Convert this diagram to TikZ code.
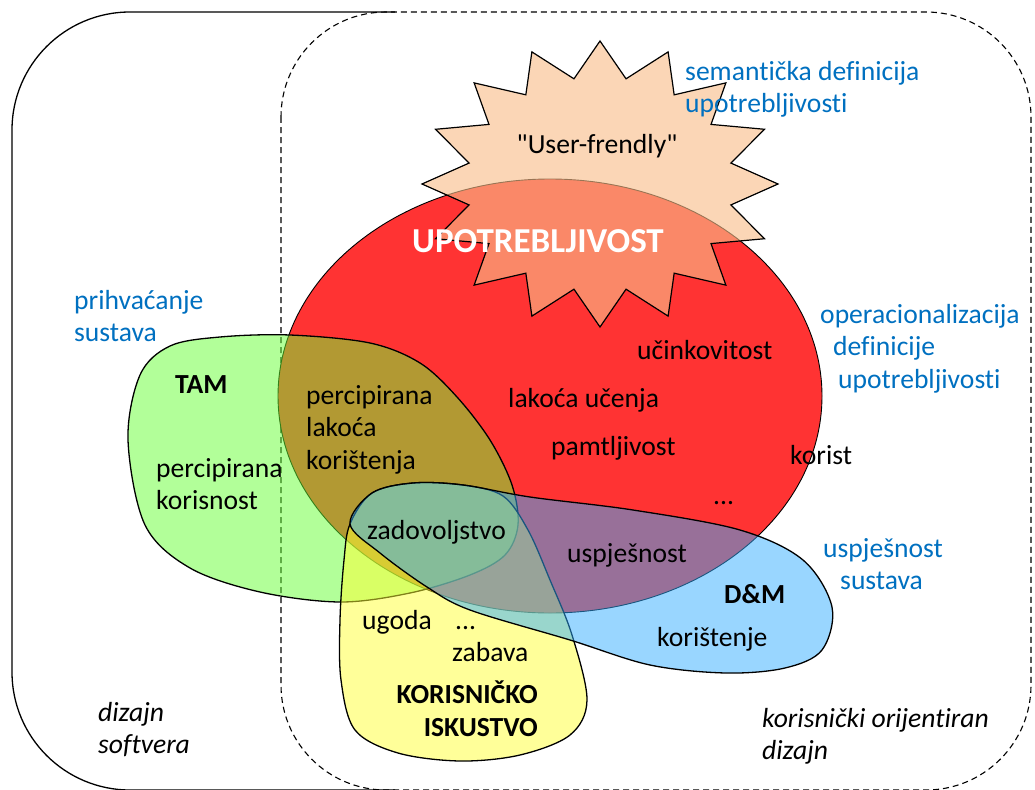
\documentclass[tikz,border=0pt]{standalone}
\usepackage{fontspec}
\setmainfont{Carlito}[Ligatures=NoCommon]
\definecolor{upored}{RGB}{255,51,51}
\definecolor{starpeach}{RGB}{248,189,137}
\definecolor{tamgreen}{RGB}{102,255,51}
\definecolor{uxyellow}{RGB}{255,255,51}
\definecolor{dmblue}{RGB}{51,173,255}
\definecolor{notecol}{RGB}{0,112,192}
\tikzset{
  blob/.style={draw=black, line width=1.3pt, fill opacity=0.5},
  txt/.style={inner sep=0pt, anchor=north west, align=left,
    font=\fontsize{27.6}{32.5}\selectfont, execute at begin node=\strut},
  note/.style={txt, text=notecol},
}
\begin{document}
\begin{tikzpicture}[x=1pt, y=-1pt]
    \useasboundingbox (0,0) rectangle (1035,789);
    % frames
    \draw[line width=1.3pt, rounded corners=118pt] (395,12) -- (12,12) -- (12,790) -- (395,790);
    \draw[line width=1.1pt, dash pattern=on 6pt off 4pt, rounded corners=105pt] (281,12) rectangle (1031,790);
    % shapes
    \draw[fill=upored, line width=0.9pt] (550,396) ellipse [x radius=272, y radius=217];
    \draw[fill=starpeach, fill opacity=0.62, line width=1.2pt]
        plot[samples=32, domain=0:31, variable=\k]
        ({600+178*(1-0.25*mod(\k,2))*cos(90+11.25*\k)}, {184-143*(1-0.25*mod(\k,2))*sin(90+11.25*\k)}) -- cycle;
    \draw[blob, fill=tamgreen] plot[smooth cycle, tension=0.55] coordinates {
        (128,440) (140,375) (170,346) (220,337) (290,335) (370,343) (420,363) (457,397)
        (490,440) (512,485) (518,525) (505,555) (470,575) (410,593) (340,602) (260,592) (190,568) (145,525)};
    \draw[blob, fill=uxyellow] plot[smooth cycle, tension=0.55] coordinates {
        (344,560) (350,524) (372,493) (413,483) (463,485) (503,496) (528,530) (550,580)
        (572,635) (587,700) (570,735) (520,755) (460,761) (398,753) (355,730) (341,680) (340,620)};
    \draw[blob, fill=dmblue] plot[smooth cycle, tension=0.55] coordinates {
        (350,524) (372,493) (413,483) (463,485) (530,497) (633,510) (740,530) (803,560) (832,607)
        (822,650) (785,668) (726,673) (650,665) (570,640) (470,610) (427,587) (380,553)};
    % labels
    \node[note] (sem) at (685,61) {semantička definicija\\upotrebljivosti};
    \node[txt, anchor=base] (userfr) at (597,153) {\textquotedbl User-frendly\textquotedbl};
    \node[txt, anchor=base west, text=white, font=\fontsize{35}{40}\selectfont\bfseries] (upo) at (412,252) {UPOTREBLJIVOST};
    \node[note] (prih) at (74,290) {prihvaćanje\\sustava};
    \node[note] (oper) at (820,304) {operacionalizacija\\\hspace*{13pt}definicije\\\hspace*{18pt}upotrebljivosti};
    \node[txt, font=\fontsize{27.6}{32.5}\selectfont\bfseries] (tam) at (175,371) {TAM};
    \node[txt] (perkor) at (156,458) {percipirana\\korisnost};
    \node[txt] (perlak) at (306,385) {percipirana\\lakoća\\korištenja};
    \node[txt] (ucink) at (637,337) {učinkovitost};
    \node[txt] (lakuc) at (508,385) {lakoća učenja};
    \node[txt] (pamt) at (551,433) {pamtljivost};
    \node[txt] (korist) at (790,442) {korist};
    \node[txt] (dotsu) at (713,482) {...};
    \node[txt] (zadov) at (367,517) {zadovoljstvo};
    \node[txt] (uspj) at (567,540) {uspješnost};
    \node[note] (uspsus) at (823,538) {uspješnost\\\hspace*{17pt}sustava};
    \node[txt, font=\fontsize{27.6}{32.5}\selectfont\bfseries] (dm) at (724,581) {D\&M};
    \node[txt] (koristenje) at (657,624) {korištenje};
    \node[txt] (ugoda) at (362,607) {ugoda};
    \node[txt] (dotsk) at (455,607) {...};
    \node[txt] (zabava) at (452,639) {zabava};
    \node[txt, anchor=north east, align=right, font=\fontsize{27.6}{32.5}\selectfont\bfseries] (ux) at (538,681) {KORISNIČKO\\ISKUSTVO};
    \node[txt, font=\fontsize{27.6}{32.5}\selectfont\itshape] (dizsw) at (98,702) {dizajn\\softvera};
    \node[txt, font=\fontsize{27.6}{32.5}\selectfont\itshape] (dizuc) at (762,708) {korisnički orijentiran\\dizajn};
\end{tikzpicture}
\end{document}
